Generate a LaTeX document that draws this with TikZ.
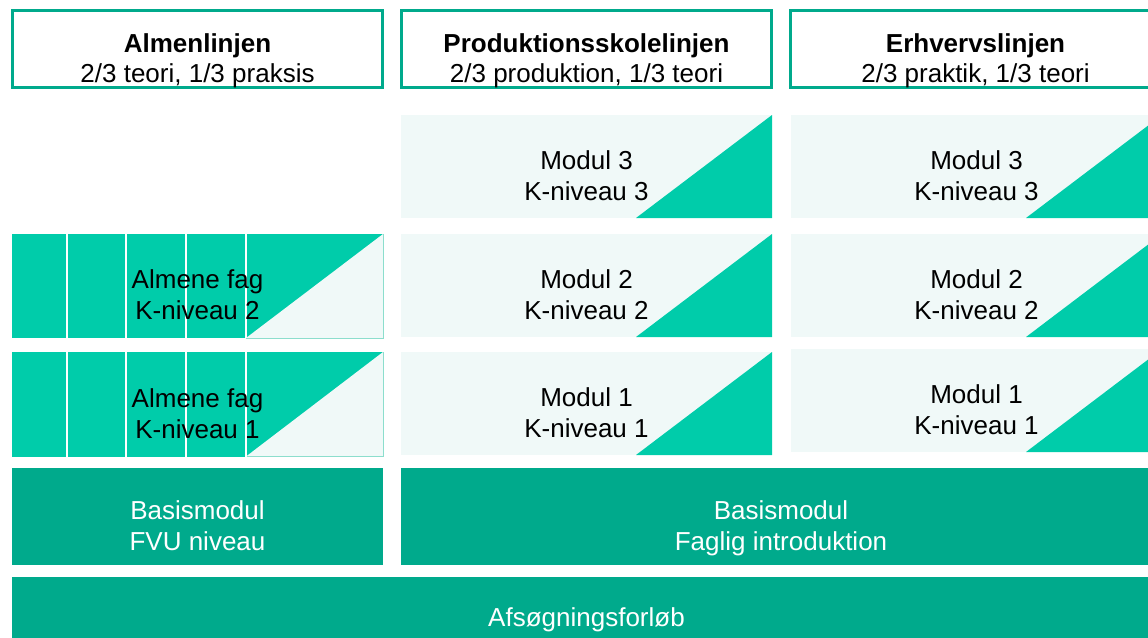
\documentclass[tikz,border=0pt]{standalone}
\usepackage{fontspec}
\setmainfont{Liberation Sans}
\usepackage{tikz}
\usetikzlibrary{calc,positioning}
\definecolor{dunkel}{RGB}{0,170,140}
\definecolor{gruen}{RGB}{0,204,170}
\definecolor{hell}{RGB}{240,249,248}
\definecolor{linie}{RGB}{140,222,205}

\begin{document}
\begin{tikzpicture}[x=1pt,y=-1pt,
feld/.style={rectangle,anchor=north west,inner sep=0pt,outer sep=0pt,minimum width=371pt,minimum height=103pt},
kopf/.style={feld,draw=dunkel,line width=2.5pt,minimum width=370pt,minimum height=77pt},
tekst/.style={align=center,inner sep=0pt,text depth=0pt,font=\fontsize{26}{31}\selectfont},
kopftekst/.style={tekst,font=\fontsize{26}{30}\selectfont}]
\clip (0,0) rectangle (1148,637);
% overskrifter
\node[kopf] (almen) at (12.5,10.5) {};
\node[kopf] (prod) at (401.5,10.5) {};
\node[kopf] (erhverv) at (790.5,10.5) {};
\node[kopftekst] (almentxt) at ([yshift=-9pt]almen.center) {\textbf{Almenlinjen}\\2/3 teori, 1/3 praksis};
\node[kopftekst] (prodtxt) at ([yshift=-9pt]prod.center) {\textbf{Produktionsskolelinjen}\\2/3 produktion, 1/3 teori};
\node[kopftekst] (erhvervtxt) at ([yshift=-9pt]erhverv.center) {\textbf{Erhvervslinjen}\\2/3 praktik, 1/3 teori};
% moduler
\node[feld,fill=hell] (p3) at (401,115) {};
\node[feld,fill=hell] (p2) at (401,234) {};
\node[feld,fill=hell] (p1) at (401,352) {};
\node[feld,fill=hell] (e3) at (791,115) {};
\node[feld,fill=hell] (e2) at (791,234) {};
\node[feld,fill=hell] (e1) at (791,349) {};
\foreach \m in {p3,p2,p1,e3,e2,e1}
  \fill[gruen] ([xshift=235pt]\m.south west) -- (\m.south east) -- (\m.north east) -- cycle;
\node[tekst] (p3txt) at ([yshift=-9pt]p3.center) {Modul 3\\K-niveau 3};
\node[tekst] (p2txt) at ([yshift=-9pt]p2.center) {Modul 2\\K-niveau 2};
\node[tekst] (p1txt) at ([yshift=-9pt]p1.center) {Modul 1\\K-niveau 1};
\node[tekst] (e3txt) at ([yshift=-9pt]e3.center) {Modul 3\\K-niveau 3};
\node[tekst] (e2txt) at ([yshift=-9pt]e2.center) {Modul 2\\K-niveau 2};
\node[tekst] (e1txt) at ([yshift=-9pt]e1.center) {Modul 1\\K-niveau 1};
% almene fag
\node[feld,fill=gruen,minimum height=104pt] (a2) at (12,234) {};
\node[feld,fill=gruen,minimum height=104.5pt] (a1) at (12,352) {};
\foreach \a in {a2,a1} {
  \fill[hell] ([xshift=234pt]\a.south west) -- (\a.south east) -- (\a.north east) -- cycle;
  \draw[linie,line width=0.8pt] ([xshift=234pt]\a.south west) -- (\a.south east) -- (\a.north east);
  \foreach \x in {55,114,174,234}
    \draw[white,line width=1.3pt] ([xshift=\x pt]\a.north west) -- ([xshift=\x pt]\a.south west);
}
\node[tekst] (a2txt) at ([yshift=-9pt]a2.center) {Almene fag\\K-niveau 2};
\node[tekst] (a1txt) at ([yshift=-9pt]a1.center) {Almene fag\\K-niveau 1};
% basis
\node[feld,fill=dunkel,minimum height=97pt] (b1) at (12,468) {};
\node[feld,fill=dunkel,minimum width=760pt,minimum height=97pt] (b2) at (401,468) {};
\node[feld,fill=dunkel,minimum width=1149pt,minimum height=64pt] (afs) at (12,577) {};
\node[tekst,text=white] (b1txt) at ([yshift=-9pt]b1.center) {Basismodul\\FVU niveau};
\node[tekst,text=white] (b2txt) at ([yshift=-9pt]b2.center) {Basismodul\\Faglig introduktion};
\node[tekst,text=white] (afstxt) at ([yshift=-8pt]afs.center) {Afsøgningsforløb};
\end{tikzpicture}
\end{document}
